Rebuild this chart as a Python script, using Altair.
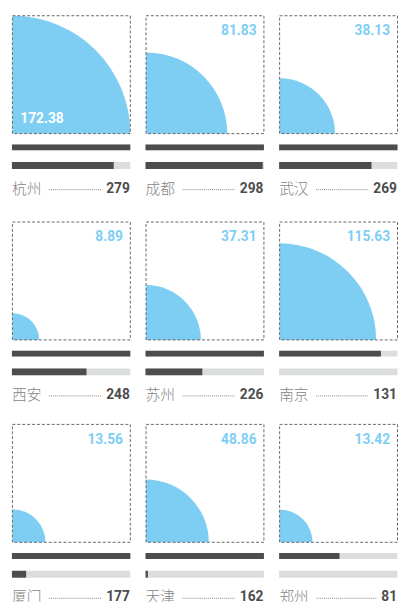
import altair as alt
import pandas as pd

cities = ["杭州", "成都", "武汉", "西安", "苏州", "南京", "厦门", "天津", "郑州"]
values = [172.38, 81.83, 38.13, 8.89, 37.31, 115.63, 13.56, 48.86, 13.42]
totals = [279, 298, 269, 248, 226, 131, 177, 162, 81]
bar1 = [1.0, 1.0, 1.0, 1.0, 1.0, 0.86, 1.0, 1.0, 0.51]
bar2 = [0.86, 0.99, 0.78, 0.63, 0.48, 0.0, 0.12, 0.02, 0.0]

W = 121
ROW_H = [198, 194, 181]
DIGIT_W = 8.1

df = pd.DataFrame({
    "city": cities,
    "value": values,
    "total": totals,
    "bar1": bar1,
    "bar2": bar2,
})
df["inside"] = df["value"] >= max(values)
df["lead_end"] = 120 - df["total"].astype(str).str.len() * DIGIT_W - 5

BLUE = "#7ecef4"
DARK = "#4d4d4d"
LIGHT = "#dcdddd"

base = alt.Chart()

box = base.mark_rect(fill=None, stroke="#666666", strokeDash=[3, 2], strokeWidth=1).encode(
    x=alt.value(0.5), x2=alt.value(120.5), y=alt.value(0.5), y2=alt.value(120.5)
)

arc = base.mark_arc(theta=0, theta2=1.5707963, color=BLUE).encode(
    x=alt.value(0.5),
    y=alt.value(120.5),
    radius=alt.Radius("value:Q", scale=alt.Scale(type="sqrt", domain=[0, max(values)], range=[0, 120])),
)

xs = alt.Scale(domain=[0, 1], range=[0, 120.5])

bg1 = base.mark_rect(color=LIGHT).encode(
    x=alt.value(0), x2=alt.value(120.5), y=alt.value(131.5), y2=alt.value(137.5)
)
fg1 = base.mark_rect(color=DARK).encode(
    x=alt.X("bar1:Q", scale=xs, axis=None), x2=alt.value(0), y=alt.value(131.5), y2=alt.value(137.5)
)
bg2 = base.mark_rect(color=LIGHT).encode(
    x=alt.value(0), x2=alt.value(120.5), y=alt.value(149.5), y2=alt.value(156.5)
)
fg2 = base.mark_rect(color=DARK).encode(
    x=alt.X("bar2:Q", scale=xs, axis=None), x2=alt.value(0), y=alt.value(149.5), y2=alt.value(156.5)
)

label_out = base.mark_text(
    align="right", baseline="middle", font="Roboto", fontWeight="bold", fontSize=14, color=BLUE
).encode(
    x=alt.value(113), y=alt.value(16), text=alt.Text("value:Q", format=".2f")
).transform_filter("!datum.inside")

label_in = base.mark_text(
    align="left", baseline="middle", font="Roboto", fontWeight="bold", fontSize=14, color="white"
).encode(
    x=alt.value(8.5), y=alt.value(105.5), text=alt.Text("value:Q", format=".2f")
).transform_filter("datum.inside")

name = base.mark_text(
    align="left", baseline="middle", font="Noto Sans CJK SC", fontWeight=300, fontSize=15,
    color="#858585", clip=True
).encode(
    x=alt.value(0), y=alt.value(176.5), text="city:N"
)

leader = base.mark_rule(color="#8a8a8a", strokeDash=[1, 1], strokeWidth=1, clip=True).encode(
    x=alt.X("lead_end:Q", scale=None, axis=None), x2=alt.value(37), y=alt.value(177.5)
)

number = base.mark_text(
    align="right", baseline="middle", font="Roboto", fontWeight="bold", fontSize=14,
    color=DARK, clip=True
).encode(
    x=alt.value(120), y=alt.value(176.5), text="total:Q"
)


def panel(i, c):
    h = ROW_H[i // 3]
    return alt.layer(
        arc, box, bg1, fg1, bg2, fg2, label_out, label_in, name, leader, number
    ).transform_filter(alt.datum.city == c).properties(width=W, height=h).resolve_scale(x="independent")


chart = alt.concat(
    *[panel(i, c) for i, c in enumerate(cities)], data=df, columns=3, spacing={"row": 12, "column": 15}
).properties(
    padding={"left": 4, "top": 2, "right": 0, "bottom": 0}
).configure_view(stroke=None)

chart.save("out.html", embed_options={"renderer": "svg", "actions": False})
